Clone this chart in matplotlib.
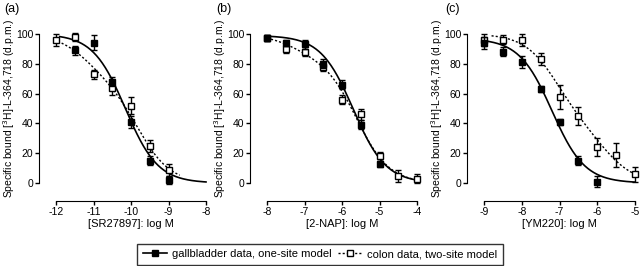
import numpy as np
import matplotlib
matplotlib.use("Agg")
import matplotlib.pyplot as plt
from matplotlib.lines import Line2D

plt.rcParams['font.family'] = ['Liberation Sans', 'DejaVu Sans']
plt.rcParams['font.size'] = 8
plt.rcParams['axes.unicode_minus'] = False

# ---- data ----
a_gb_x = [-11.5, -11, -10.5, -10, -9.5, -9]
a_gb_y = [89, 94, 68, 41, 15, 2]
a_gb_e = [3, 5, 3, 4, 3, 3]
a_co_x = [-12, -11.5, -11, -10.5, -10, -9.5, -9]
a_co_y = [96, 98, 73, 64, 52, 25, 9]
a_co_e = [4, 3, 3, 5, 6, 4, 4]

b_gb_x = [-8, -7.5, -7, -6.5, -6, -5.5, -5]
b_gb_y = [97, 94, 93, 80, 66, 39, 13]
b_gb_e = [2, 2, 3, 3, 3, 3, 2]
b_co_x = [-8, -7.5, -7, -6.5, -6, -5.5, -5, -4.5, -4]
b_co_y = [97, 90, 88, 78, 56, 46, 18, 5, 3]
b_co_e = [2, 3, 3, 3, 3, 4, 3, 4, 3]

c_gb_x = [-9, -8.5, -8, -7.5, -7, -6.5, -6]
c_gb_y = [94, 88, 81, 63, 41, 15, 1]
c_gb_e = [4, 3, 4, 2, 2, 3, 4]
c_co_x = [-9, -8.5, -8, -7.5, -7, -6.5, -6, -5.5, -5]
c_co_y = [96, 96, 96, 83, 58, 45, 24, 19, 6]
c_co_e = [4, 3, 4, 4, 8, 6, 6, 8, 5]

# fitted model parameters: one-site (top, logIC50), two-site (frac, logIC50_1, logIC50_2)
a_one = (100, -10.15)
a_two = (0.30, -11.2, -9.8)
b_one = (99, -5.7)
b_two = (0.15, -7.3, -5.6)
c_one = (97, -7.2)
c_two = (0.60, -7.1, -5.8)

xlabels = ["[SR27897]: log M", "[2-NAP]: log M", "[YM220]: log M"]
xlims = [(-12, -8), (-8, -4), (-9, -5)]
panel_tags = ["(a)", "(b)", "(c)"]
ylabel = "Specific bound [$^3$H]-L-364,718 (d.p.m.)"


def one_site(x, p):
    top, l = p
    return top / (1 + 10 ** (x - l))


def two_site(x, p):
    f, l1, l2 = p
    return 100 * (f / (1 + 10 ** (x - l1)) + (1 - f) / (1 + 10 ** (x - l2)))


W, H = 640, 266
fig = plt.figure(figsize=(W / 100, H / 100), dpi=100)

# pixel placement of each panel: (left, right) for the data area
boxes = [(56, 206), (267, 417), (484, 635)]
ytop, ybot = 34, 183
tag_x = [4, 216, 445]

panels = [
    (a_gb_x, a_gb_y, a_gb_e, a_co_x, a_co_y, a_co_e, a_one, a_two, (-11.9, -8), (-11.85, -8.7)),
    (b_gb_x, b_gb_y, b_gb_e, b_co_x, b_co_y, b_co_e, b_one, b_two, (-8, -4), (-8, -4)),
    (c_gb_x, c_gb_y, c_gb_e, c_co_x, c_co_y, c_co_e, c_one, c_two, (-9, -5), (-8.8, -5)),
]

for i, (gx, gy, ge, cx, cy, ce, p1, p2, r1, r2) in enumerate(panels):
    l, r = boxes[i]
    ax = fig.add_axes([l / W, (H - ybot) / H, (r - l) / W, (ybot - ytop) / H])
    ax.set_xlim(*xlims[i])
    ax.set_ylim(0, 100)

    xs = np.linspace(r1[0], r1[1], 200)
    ax.plot(xs, one_site(xs, p1), color='black', lw=1.2, clip_on=False, zorder=2)
    xs = np.linspace(r2[0], r2[1], 200)
    ax.plot(xs, two_site(xs, p2), color='black', lw=1.0, ls=(0, (1.5, 1.5)), clip_on=False, zorder=2)

    ax.errorbar(cx, cy, yerr=ce, fmt='s', ms=5, mfc='white', mec='black', mew=1,
                ecolor='black', elinewidth=1, capsize=2.5, capthick=1, clip_on=False, zorder=3)
    ax.errorbar(gx, gy, yerr=ge, fmt='s', ms=5, mfc='black', mec='black',
                ecolor='black', elinewidth=1, capsize=2.5, capthick=1, clip_on=False, zorder=4)

    for s in ['top', 'right']:
        ax.spines[s].set_visible(False)
    ax.spines['left'].set_position(('outward', 12))
    ax.spines['bottom'].set_position(('outward', 13))
    ax.spines['left'].set_bounds(0, 100)
    ax.spines['bottom'].set_bounds(*xlims[i])
    ax.set_yticks([0, 20, 40, 60, 80, 100])
    ax.set_xticks(np.arange(xlims[i][0], xlims[i][1] + 1, 1))
    ax.tick_params(length=3, width=1, pad=1.5, labelsize=7.5)
    ax.set_xlabel(xlabels[i], labelpad=1, fontsize=8)
    ax.set_ylabel(ylabel, fontsize=7.5)
    ax.yaxis.set_label_coords((9 - 56) / 150, 0.5)
    ax.yaxis.label.set_va('center')
    fig.text(tag_x[i] / W, 1 - 9 / H, panel_tags[i], fontsize=9, va='center', ha='left')

handles = [
    Line2D([], [], color='black', lw=1.2, marker='s', ms=4, mfc='black'),
    Line2D([], [], color='black', lw=1.0, ls=(0, (1.5, 1.5)), marker='s', ms=4, mfc='white'),
]
labels = ["gallbladder data, one-site model", "colon data, two-site model"]
leg = fig.legend(handles, labels, loc='upper center', bbox_to_anchor=(0.5, 1 - 238 / H),
                 ncol=2, frameon=True, fancybox=False, edgecolor='black', fontsize=8,
                 handlelength=2.2, handletextpad=0.4, columnspacing=0.6, borderpad=0.5)
leg.get_frame().set_linewidth(1)

fig.savefig("out.png", dpi=100)
